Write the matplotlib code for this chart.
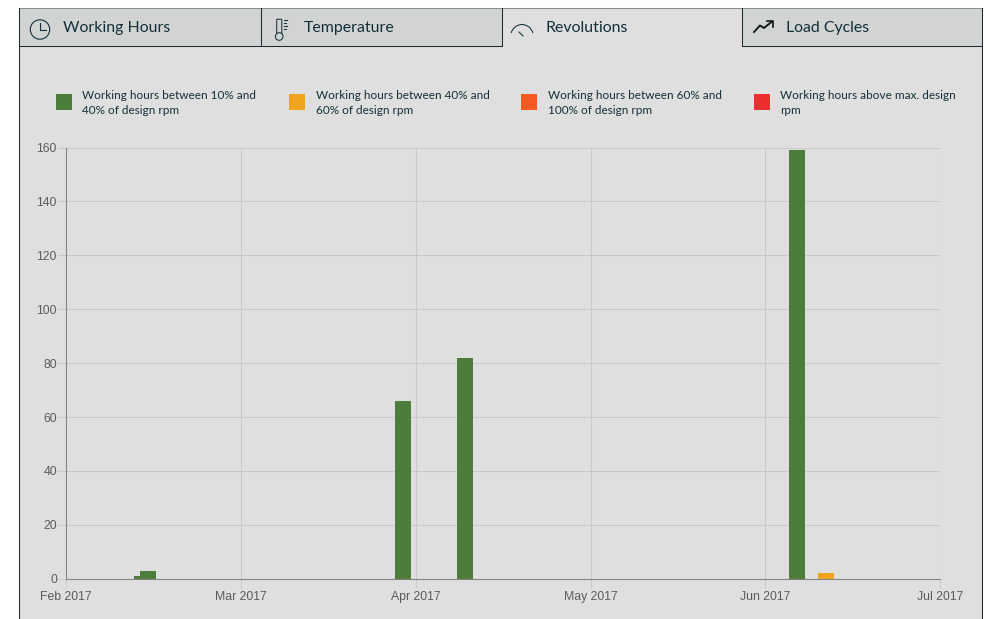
import matplotlib
matplotlib.use("Agg")
import matplotlib.pyplot as plt
from matplotlib.patches import Rectangle, Circle, Arc, FancyBboxPatch

W, H = 991, 619

month_labels = ["Feb 2017", "Mar 2017", "Apr 2017", "May 2017", "Jun 2017", "Jul 2017"]
month_positions = [0, 1, 2, 3, 4, 5]
y_ticks = [0, 20, 40, 60, 80, 100, 120, 140, 160]

# bar position expressed in months after Feb 2017
green_positions = [0.435, 0.469, 1.928, 2.282, 4.181]
green_values = [1, 3, 66, 82, 159]
orange_positions = [4.347]
orange_values = [2]

tab_labels = ["Working Hours", "Temperature", "Revolutions", "Load Cycles"]
legend_labels = [
    "Working hours between 10% and\n40% of design rpm",
    "Working hours between 40% and\n60% of design rpm",
    "Working hours between 60% and\n100% of design rpm",
    "Working hours above max. design\nrpm",
]
legend_colors = ["#4d7d3a", "#f0a51f", "#f55a22", "#ee2e2e"]

BG = "#dfdfdf"
TAB = "#d2d4d4"
INK = "#12303a"
LINE = "#1d2b30"

fig = plt.figure(figsize=(W / 100, H / 100), dpi=100, facecolor="white")

# page overlay in pixel coordinates
pg = fig.add_axes([0, 0, 1, 1], zorder=0)
pg.set_xlim(0, W)
pg.set_ylim(H, 0)
pg.axis("off")

L, R, TB = 19, 982, 46
pg.add_patch(Rectangle((L, 8), R - L, 612, fc=BG, ec="none"))
for x0, x1 in [(L, 260.5), (260.5, 501.5), (741.5, R)]:
    pg.add_patch(Rectangle((x0, 8), x1 - x0, TB - 8, fc=TAB, ec="none"))
pg.plot([L, R], [7.5, 7.5], color="#8a8e90", lw=0.75)
pg.plot([L, L], [8, H], color=LINE, lw=0.75)
pg.plot([R, R], [8, H], color=LINE, lw=0.75)
pg.plot([L, 501.5], [TB, TB], color=LINE, lw=0.75)
pg.plot([741.5, R], [TB, TB], color=LINE, lw=0.75)
for x in (260.5, 501.5, 741.5):
    pg.plot([x, x], [8, TB], color=LINE, lw=0.75)

for x, lab in zip((63, 304, 545.5, 786.5), tab_labels):
    pg.text(x, 28, lab, family="Lato", fontsize=11.4, color=INK, va="center", ha="left")

# tab icons
pg.add_patch(Circle((40, 29.5), 9.7, fc="none", ec=INK, lw=0.8))
pg.plot([40, 40, 46], [23, 30, 30], color=INK, lw=0.8)
pg.add_patch(FancyBboxPatch((277.5, 20), 3.5, 14, boxstyle="round,pad=0.8", fc="none", ec=INK, lw=0.75))
pg.add_patch(Circle((279.2, 36.5), 3.8, fc=TAB, ec=INK, lw=0.75))
for yy, xe in zip((20, 23, 26, 29), (287, 286, 287, 286)):
    pg.plot([283.5, xe], [yy, yy], color=INK, lw=0.75)
pg.add_patch(Arc((522, 37), 23, 25, theta1=200, theta2=340, ec=INK, lw=0.75))
pg.plot([519, 523], [32, 36], color=INK, lw=0.75)
pg.plot([754, 760, 764, 772], [32, 25.5, 28, 21.5], color="#10181b", lw=1.4)
pg.plot([767, 773, 773], [21, 21, 27], color="#10181b", lw=1.2)

# legend
for sx, tx, col, lab in zip((56, 289, 521, 753.5), (82, 315.5, 547.5, 780), legend_colors, legend_labels):
    pg.add_patch(Rectangle((sx, 94), 16, 16, fc=col, ec="none"))
    pg.text(tx, 103, lab, family="Lato", fontsize=8.5, color=INK, va="center", ha="left", linespacing=1.35)

# chart axes
left, right, top, bottom = 66, 940.3, 147.5, 578.7
ax = fig.add_axes([left / W, 1 - bottom / H, (right - left) / W, (bottom - top) / H], zorder=1)
ax.patch.set_alpha(0)
ax.set_xlim(0, 5)
ax.set_ylim(0, 160)
ax.set_axisbelow(True)
ax.grid(True, color="#c9c9c9", lw=0.75)
month_px = (right - left) / 5
bar_w = 16 / month_px
ax.bar(green_positions, green_values, width=bar_w, color=legend_colors[0])
ax.bar(orange_positions, orange_values, width=bar_w, color=legend_colors[1])
ax.set_xticks(month_positions, month_labels)
ax.set_yticks(y_ticks)
for s in ("top", "right"):
    ax.spines[s].set_visible(False)
for s in ("left", "bottom"):
    ax.spines[s].set_color("#858585")
    ax.spines[s].set_linewidth(0.8)
ax.tick_params(axis="both", length=6.5, width=0.75, color="#c9c9c9", labelcolor="#5c5c5c", pad=0)
ax.tick_params(axis="x", pad=2.5)
for t in ax.get_xticklabels() + ax.get_yticklabels():
    t.set_fontfamily("Liberation Sans")
    t.set_fontsize(8.8)

fig.savefig("out.png", dpi=100, facecolor="white")
